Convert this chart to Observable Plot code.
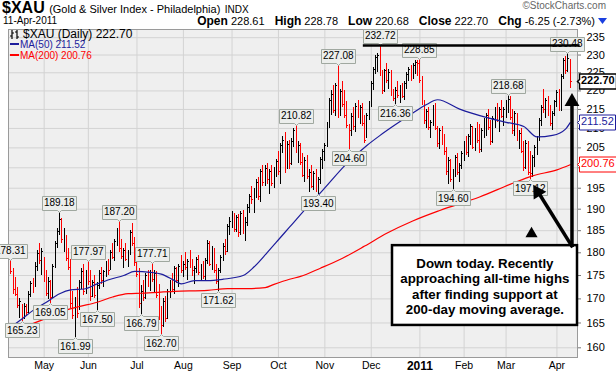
<!DOCTYPE html>
<html><head><meta charset="utf-8">
<script src="https://cdn.jsdelivr.net/npm/d3@7"></script>
<script src="https://cdn.jsdelivr.net/npm/@observablehq/plot@0.6"></script>
<style>
body{margin:0;background:#fff;font-family:"Liberation Sans",Arial,sans-serif;color:#000}
#wrap{position:relative;width:616px;height:375px;overflow:hidden;background:#fff}
#wrap svg.plot{position:absolute;left:0;top:0}
.hdr{position:absolute;white-space:nowrap;line-height:1}
#title{left:2px;top:0px}
#title .sym{font-weight:bold;font-size:16px}
#title .nm{font-size:11px}
#title .ex{font-size:10px}
#date{left:3px;top:16px;font-size:10px}
#quote{right:9px;top:15px;font-size:11px}
#quote b{font-size:12px}
#quote .gap{display:inline-block;width:7px}
#copy{right:10px;top:1px;font-size:10px;color:#666}
#legend{position:absolute;left:10px;top:29px;font-size:10px;line-height:10.6px;white-space:nowrap}
#legend .l1{font-size:12px;line-height:11px}
#legend .dash{display:inline-block;width:9px;height:2px;vertical-align:3px;margin-right:1px}
</style></head><body>
<div id="wrap">
  <div class="hdr" id="title"><span class="sym">$XAU</span> <span class="nm">(Gold &amp; Silver Index - Philadelphia)</span> <span class="ex">INDX</span></div>
  <div class="hdr" id="copy">©StockCharts.com</div>
  <div class="hdr" id="date">11-Apr-2011</div>
  <div class="hdr" id="quote"><b>Open</b> 228.61<span class="gap"></span> <b>High</b> 228.78<span class="gap"></span> <b>Low</b> 220.68<span class="gap"></span> <b>Close</b> 222.70<span class="gap"></span> <b>Chg</b> -6.25 (-2.73%)<svg width="9" height="6" style="margin-left:3px;vertical-align:1px"><polygon points="0,0 9,0 4.5,6" fill="#1a3fe0"/></svg></div>
</div>
<script>
// ---- daily bars, 12-Apr-2010 .. 11-Apr-2011 (trading-day index) ----
const highs = [
178.31,176.5,174.5,172.5,170.0,168.8,169.0,168.9,171.5,173.8,
174.3,177.8,180.5,182.0,181.0,179.0,176.0,174.5,173.9,177.5,
182.5,185.5,189.18,187.8,185.5,184.0,181.0,178.5,171.5,170.3,
172.5,174.0,176.5,177.5,176.0,177.97,176.0,174.0,175.0,173.5,
176.0,176.8,176.0,178.0,178.5,180.5,182.0,183.0,185.5,187.20,
183.0,181.0,182.0,180.5,185.0,186.6,183.5,179.5,176.5,172.8,
174.0,175.5,176.2,176.0,177.71,176.0,175.8,173.0,168.5,170.0,
170.5,172.0,174.0,175.5,177.0,176.8,177.5,179.5,178.0,180.0,
178.5,180.5,178.5,177.0,179.0,179.5,177.5,178.0,178.8,182.8,
182.5,181.5,181.0,177.5,176.5,179.5,182.0,183.0,186.5,188.0,
189.5,189.0,188.5,188.8,189.5,189.8,188.0,191.0,193.5,195.5,
195.0,197.0,197.5,199.5,200.5,200.5,201.0,199.5,200.5,200.0,
202.0,204.0,206.0,208.0,209.0,206.5,206.8,207.5,210.0,210.82,
206.5,206.0,203.5,202.5,203.0,199.5,200.5,199.0,199.5,197.5,
202.5,204.5,206.0,211.5,218.0,220.0,221.5,222.0,227.08,220.5,
222.5,220.0,217.0,211.0,214.0,215.5,216.5,217.5,216.0,216.5,
213.5,214.0,217.0,222.5,226.5,230.0,230.5,232.72,225.5,226.0,
227.5,226.0,225.5,220.5,221.0,222.5,221.5,222.0,222.5,225.0,
226.5,227.0,227.5,228.5,228.5,228.85,224.0,217.5,215.0,215.5,
212.0,216.0,216.5,210.5,210.0,210.5,208.5,205.0,202.5,202.0,
199.5,203.0,203.5,201.0,204.0,206.5,208.0,208.5,211.0,210.5,
210.0,211.5,211.0,210.0,212.5,214.0,215.0,212.0,213.0,215.5,
216.5,215.5,217.5,215.5,217.5,218.68,218.5,215.0,214.5,214.0,
209.5,210.0,206.5,207.0,206.5,204.0,203.0,205.5,208.0,212.5,
216.0,220.5,218.0,218.5,216.0,214.5,217.5,220.0,220.5,224.5,
229.0,229.5,230.48,228.78];
const lows = [
175.2,171.0,170.5,168.0,166.0,165.23,165.8,166.3,167.0,170.3,
171.2,172.5,175.8,177.5,175.0,173.5,170.5,169.8,169.05,170.0,
176.5,181.0,183.8,182.0,180.0,178.0,176.0,168.0,165.8,161.99,
166.0,167.5,172.0,170.8,171.0,172.8,169.5,170.2,170.0,167.50,
172.0,173.0,172.5,174.5,175.0,176.0,178.5,178.0,181.5,180.0,
178.5,176.5,178.0,176.8,179.5,181.5,177.0,174.5,168.0,166.79,
169.5,169.8,172.5,171.5,173.5,171.2,170.0,165.5,162.70,164.0,
165.0,165.8,170.0,171.5,171.0,173.2,172.5,175.5,174.5,176.0,
174.0,176.5,174.8,173.0,175.5,175.0,174.0,174.2,174.0,177.5,
177.0,176.0,175.5,173.0,171.62,175.5,178.0,179.5,180.0,184.0,
185.5,184.5,184.5,183.5,184.0,184.2,182.5,186.0,189.0,191.0,
189.0,192.5,192.0,191.5,195.5,195.5,196.0,193.5,195.5,195.0,
197.5,198.0,196.0,203.5,198.5,199.5,199.5,200.5,205.0,203.5,
201.0,200.5,197.5,196.5,197.0,194.0,195.0,194.5,194.0,193.40,
196.0,199.5,201.5,205.0,210.0,213.5,214.0,213.0,212.5,213.0,
215.5,212.5,210.0,204.60,208.0,209.5,209.0,212.5,211.0,210.5,
206.0,207.5,212.0,215.5,220.0,224.5,225.0,224.0,219.0,219.5,
222.0,220.5,218.5,217.0,216.36,218.0,216.5,218.0,217.5,220.5,
222.5,222.5,223.0,224.5,224.0,222.0,216.0,211.0,210.0,209.5,
207.5,210.5,209.5,205.0,204.5,205.5,203.0,198.0,196.0,196.5,
194.60,197.5,198.0,196.5,199.5,201.5,203.0,202.5,205.5,204.5,
204.0,206.0,203.5,203.8,207.5,208.0,209.5,205.5,206.0,210.0,
211.5,209.0,212.5,210.5,212.5,214.0,212.0,208.5,208.0,206.5,
204.5,203.5,199.0,199.5,198.0,197.12,197.5,200.0,203.0,206.5,
210.5,214.0,212.5,213.0,210.5,209.5,213.0,215.5,214.5,214.5,
223.0,224.5,225.0,220.68];
const closes = [
175.8,172.0,171.0,168.6,169.4,166.2,168.5,167.2,171.0,173.2,
172.0,177.0,179.8,178.3,180.2,174.0,171.2,173.8,170.2,177.0,
182.0,184.8,187.5,183.0,184.5,178.8,176.8,169.0,166.5,169.0,
167.0,173.5,175.8,171.5,175.2,173.8,170.5,173.5,170.8,172.8,
175.5,174.0,175.8,177.5,176.2,180.0,179.0,182.5,185.0,181.0,
179.2,180.5,178.6,180.0,184.5,182.0,177.8,175.2,169.0,171.5,
170.2,175.0,173.2,175.6,174.2,175.5,170.8,166.2,164.5,169.5,
166.0,171.5,173.5,172.0,176.5,174.0,177.0,176.2,177.5,176.8,
178.0,177.0,176.0,176.5,178.5,175.6,177.0,174.8,178.2,182.0,
177.5,180.8,176.0,173.8,176.0,179.0,181.5,180.2,186.0,187.2,
189.0,185.2,188.0,184.5,189.0,185.0,187.0,190.5,193.0,192.2,
194.5,196.5,193.0,199.0,196.5,199.8,197.0,199.0,196.2,199.5,
201.5,199.0,205.5,207.0,200.5,205.8,201.0,206.5,209.5,204.2,
205.5,201.2,198.2,201.8,197.8,198.8,195.5,198.5,194.8,197.0,
202.0,204.0,205.5,211.0,217.5,219.0,214.8,221.5,213.2,219.8,
216.2,213.5,210.8,209.5,213.0,210.5,215.8,213.2,215.5,211.2,
207.0,213.5,216.5,222.0,225.8,229.2,229.8,224.8,220.0,225.5,
222.8,225.2,219.3,218.0,220.2,218.8,221.0,218.6,222.0,224.5,
226.0,223.2,227.0,228.0,227.5,222.8,216.8,212.0,214.5,210.2,
211.5,215.0,210.0,206.0,209.5,206.2,204.0,199.0,201.8,197.2,
198.8,202.5,198.8,200.5,203.5,206.0,203.8,207.8,210.5,205.2,
209.5,206.8,204.5,209.5,212.0,213.5,210.2,206.5,212.5,215.0,
212.0,215.0,213.2,215.0,216.8,217.8,212.8,209.5,213.8,207.2,
208.8,204.2,200.0,206.0,198.8,198.5,202.5,205.0,207.5,212.0,
215.5,215.0,217.5,213.8,211.2,214.0,217.0,219.5,215.2,224.0,
228.5,225.5,228.95,222.70];

// moving averages read at points along the lines
const ma50Idx = [0,4,10,16,22,27,33,39,45,51,56,63,68,74,77,83,89,96,105,110,116,122,126,134,141,152,161,167,175,182,188,193,203,215,224,232,238,245,251,253];
const ma50Val = [164.2,165.5,167.6,169.3,171.1,171.9,172.1,173.2,174.2,175.0,175.9,175.7,175.3,173.9,173.2,173.9,173.9,174.2,175.0,176.9,180.1,183.5,185.8,190.5,194.5,201.1,205.6,208.2,211.4,214.1,216.3,217.6,215.1,212.9,211.6,210.5,207.8,208.2,209.9,211.52];
const ma200Idx = [6,15,22,30,39,46,53,59,74,89,98,107,115,119,126,131,140,150,160,170,182,194,212,227,236,247,253];
const ma200Val = [164.2,165.8,167.2,168.3,169.3,170.4,171.1,171.2,171.6,171.8,172.2,172.2,172.4,173.1,174.2,174.8,176.6,178.8,181.5,184.4,187.3,189.7,192.9,196.2,198.0,199.5,200.76];

// labelled highs and lows
const peakIdx = [0,22,35,49,64,129,148,167,185,225,252];
const peakVal = [178.31,189.18,177.97,187.20,177.71,210.82,227.08,232.72,228.85,218.68,230.48];
const troughIdx = [5,18,29,39,59,68,94,139,153,174,200,235];
const troughVal = [165.23,169.05,161.99,167.50,166.79,162.70,171.62,193.40,204.60,216.36,194.60,197.12];

// axes
const monthIdx = [15,35,57,78,100,121,142,163,185,205,224,247];
const monthLabels = ["May","Jun","Jul","Aug","Sep","Oct","Nov","Dec","2011","Feb","Mar","Apr"];
const yTicks = [160,165,170,175,180,185,190,195,200,205,210,215,220,225,230,235];

// last values shown as tags on the price axis
const tagVal = [222.70, 211.52, 200.76];
const tagColor = ["#000000", "#1c1c9c", "#ff0000"];

// hand-drawn annotation (chart coordinates: trading-day index, price)
const noteText = "Down today. Recently\napproaching all-time highs\nafter finding support at\n200-day moving average.";
const noteBox = {x1: 172.6, x2: 256.3, y1: 164.5, y2: 181.6, cx: 214.4, cy: 172.7};
const resistance = {x1: 159.4, x2: 257.5, y: 232.72};
const arrowShafts = [{x1: 253.8, y1: 181.3, x2: 253.8, y2: 216.3}, {x1: 254.1, y1: 181.2, x2: 238.7, y2: 193.9}];
const arrowHeads = [{x: 253.8, y: 217.1, rot: 0}, {x: 238.3, y: 194.1, rot: -32}];
const marker = [{x: 235.5, y: 184.3}];

// ---- build ----
const bars = highs.map((h, i) => ({i, high: h, low: lows[i], close: closes[i],
  color: i > 0 && closes[i] >= closes[i - 1] ? "#000000" : "#ff0000"}));
const ma50 = ma50Idx.map((x, k) => ({x, v: ma50Val[k]}));
const ma200 = ma200Idx.map((x, k) => ({x, v: ma200Val[k]}));
const peaks = peakIdx.map((x, k) => ({x, v: peakVal[k]}));
const troughs = troughIdx.map((x, k) => ({x, v: troughVal[k]}));
const xDomain = [-1.13, 256.3];
const tags = tagVal.map((v, k) => ({x: xDomain[1], v, c: tagColor[k]}));

const tint = c => (index, scales, values, dims, ctx, next) => {
  const g = next(index, scales, values, dims, ctx);
  g.style.color = c; return g;
};
const labelStyle = {fontSize: 10, textPadding: 1.5, pointerSize: 4, fill: "#eceeec", stroke: "#a0a8a0", pathFilter: "none", fontFamily: "Liberation Sans, Arial, sans-serif"};

const plot = Plot.plot({
  width: 616, height: 375,
  marginTop: 29, marginBottom: 18, marginLeft: 8, marginRight: 39,
  style: {fontFamily: "Liberation Sans, Arial, sans-serif", background: "transparent", color: "#000", overflow: "visible"},
  x: {domain: xDomain, axis: null},
  y: {type: "log", domain: [158.09, 237.4], axis: null},
  marks: [
    Plot.frame({fill: "#efefef", stroke: null}),
    Plot.gridY(yTicks, {stroke: "#d3d3d3", strokeOpacity: 1}),
    Plot.gridX(monthIdx, {stroke: "#d3d3d3", strokeOpacity: 1}),
    Plot.axisY(yTicks, {anchor: "right", tickSize: 3, tickPadding: 6, fontSize: 11, tickFormat: d => String(d), stroke: "#777"}),
    Plot.axisX(monthIdx.filter((d, k) => monthLabels[k] !== "2011"), {anchor: "bottom", tickSize: 0, tickPadding: 4, fontSize: 10.5,
      tickFormat: d => monthLabels[monthIdx.indexOf(d)]}),
    Plot.axisX(monthIdx.filter((d, k) => monthLabels[k] === "2011"), {anchor: "bottom", tickSize: 0, tickPadding: 3.5, fontSize: 12, fontWeight: "bold",
      tickFormat: d => monthLabels[monthIdx.indexOf(d)]}),
    Plot.ruleX(bars, {x: "i", y1: "low", y2: "high", stroke: "color", strokeWidth: 1, shapeRendering: "crispEdges"}),
    Plot.link(bars, {x1: "i", x2: d => d.i + 0.6, y1: "close", y2: "close", stroke: "color", strokeWidth: 1, shapeRendering: "crispEdges"}),
    Plot.line(ma200, {x: "x", y: "v", stroke: "#ff0000", strokeWidth: 1.2, curve: "monotone-x"}),
    Plot.line(ma50, {x: "x", y: "v", stroke: "#1c1c9c", strokeWidth: 1.2, curve: "monotone-x"}),
    Plot.frame({stroke: "#9a9a9a"}),
    Plot.tip(peaks, {x: "x", y: "v", title: d => d.v.toFixed(2), anchor: "bottom", ...labelStyle}),
    Plot.tip(troughs, {x: "x", y: "v", title: d => d.v.toFixed(2), anchor: "top", ...labelStyle}),
    Plot.ruleY([resistance], {y: "y", x1: "x1", x2: "x2", stroke: "#000", strokeWidth: 2.5}),
    Plot.rect([noteBox], {x1: "x1", x2: "x2", y1: "y1", y2: "y2", fill: "#fff", stroke: "#000", strokeWidth: 2.5}),
    Plot.text([noteBox], {x: "cx", y: "cy", text: () => noteText, fontSize: 13.3, fontWeight: "bold", lineHeight: 1.165, fill: "#000"}),
    Plot.link(arrowShafts, {x1: "x1", y1: "y1", x2: "x2", y2: "y2", stroke: "#000", strokeWidth: 3.5}),
    Plot.dot(arrowHeads, {x: "x", y: "y", symbol: "triangle", r: 5.5, fill: "#000", stroke: null, rotate: "rot"}),
    Plot.dot(marker, {x: "x", y: "y", symbol: "triangle", r: 4.5, fill: "#000", stroke: null}),
    ...tags.map((t, k) => Plot.tip([t], {x: "x", y: "v", title: d => d.v.toFixed(2), anchor: "left",
      fontSize: 11, fontWeight: k === 0 ? "bold" : "normal", textPadding: 1.5, pointerSize: 4,
      fill: "#fff", stroke: t.c, strokeWidth: k === 0 ? 1.5 : 1, pathFilter: "none", render: tint(t.c)}))
  ]
});
plot.classList.add("plot");
const wrap = document.getElementById("wrap");
wrap.insertBefore(plot, wrap.firstChild);

// legend
const lg = document.createElement("div");
lg.id = "legend";
lg.innerHTML = '<div class="l1"><svg width="11" height="9" style="vertical-align:-1px;margin-right:2px"><path d="M2 0V9M0 6H2M2 3H4M7 0V9M5 2H7M7 7H9" stroke="#000" stroke-width="1.2" fill="none"/></svg>$XAU (Daily) 222.70</div>' +
  '<div style="color:#1c1c9c"><span class="dash" style="background:#1c1c9c"></span>MA(50) 211.52</div>' +
  '<div style="color:#ff0000"><span class="dash" style="background:#ff0000"></span>MA(200) 200.76</div>';
wrap.appendChild(lg);
</script>
</body></html>
